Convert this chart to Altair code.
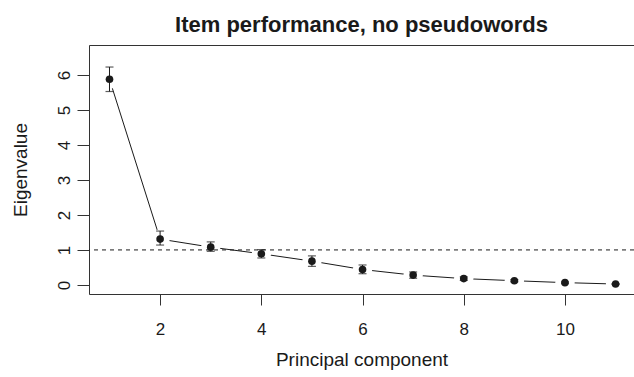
import altair as alt
import pandas as pd

pc = [1, 2, 3, 4, 5, 6, 7, 8, 9, 10, 11]
eig = [5.88, 1.31, 1.08, 0.89, 0.68, 0.44, 0.28, 0.18, 0.12, 0.065, 0.025]
lo = [5.53, 1.14, 0.96, 0.77, 0.53, 0.32, 0.19, 0.13, 0.09, 0.045, 0.015]
hi = [6.23, 1.54, 1.23, 1.01, 0.83, 0.57, 0.37, 0.23, 0.15, 0.085, 0.035]
x_ticks = [2, 4, 6, 8, 10]
y_ticks = [0, 1, 2, 3, 4, 5, 6]
ref_value = 1

df = pd.DataFrame({"pc": pc, "eig": eig, "lo": lo, "hi": hi})

FONT = "Liberation Sans"
INK = "#1a1a1a"

xs = alt.Scale(domain=[0.595, 11.364], nice=False, zero=False)
ys = alt.Scale(domain=[-0.26, 6.86], nice=False, zero=False)

x_axis = alt.Axis(
    orient="bottom",
    values=x_ticks, grid=False, tickSize=11, tickColor="#333", domainColor="#333",
    labelFont=FONT, labelFontSize=17, labelColor=INK, labelPadding=29,
    labelBaseline="alphabetic", title="Principal component", titleFont=FONT,
    titleFontSize=19, titleFontWeight="normal", titleColor=INK,
    titleBaseline="alphabetic", titleY=71,
)
y_axis = alt.Axis(
    values=y_ticks, grid=False, tickSize=12, tickColor="#333", domainColor="#333",
    labelFont=FONT, labelFontSize=17, labelColor=INK, labelAngle=270,
    labelAlign="center", labelBaseline="alphabetic", labelPadding=8,
    title="Eigenvalue", titleFont=FONT, titleFontSize=19, titleFontWeight="normal",
    titleColor=INK, titleAngle=270, titleBaseline="alphabetic", titleX=-63,
)

base = alt.Chart(df)

line = base.mark_line(color=INK, strokeWidth=1).encode(
    x=alt.X("pc:Q", scale=xs, axis=x_axis),
    y=alt.Y("eig:Q", scale=ys, axis=y_axis),
)
halo = base.mark_point(filled=True, color="white", opacity=1, size=380).encode(
    x=alt.X("pc:Q", scale=xs, axis=None), y=alt.Y("eig:Q", scale=ys)
)
topframe = base.mark_point(opacity=0).encode(
    x=alt.X("pc:Q", scale=xs, axis=alt.Axis(orient="top", labels=False, ticks=False,
                                             grid=False, title=None, domainColor="#333",
                                             minExtent=0, maxExtent=0)),
    y=alt.Y("eig:Q", scale=ys),
)
ref = alt.Chart(pd.DataFrame({"v": [ref_value]})).mark_rule(
    color=INK, strokeWidth=1, strokeDash=[4, 4]
).encode(y=alt.Y("v:Q", scale=ys))
bars = base.mark_rule(color="#1a1a1a", strokeWidth=1).encode(
    x=alt.X("pc:Q", scale=xs, axis=None), y=alt.Y("lo:Q", scale=ys), y2="hi:Q"
)
cap_lo = base.mark_tick(color="#1a1a1a", thickness=1.2, size=8, orient="horizontal").encode(
    x=alt.X("pc:Q", scale=xs, axis=None), y=alt.Y("lo:Q", scale=ys)
)
cap_hi = base.mark_tick(color="#1a1a1a", thickness=1.2, size=8, orient="horizontal").encode(
    x=alt.X("pc:Q", scale=xs, axis=None), y=alt.Y("hi:Q", scale=ys)
)
pts = base.mark_point(filled=True, color=INK, opacity=1, size=58).encode(
    x=alt.X("pc:Q", scale=xs, axis=None), y=alt.Y("eig:Q", scale=ys)
)

chart = alt.layer(line, topframe, halo, ref, bars, cap_lo, cap_hi, pts).resolve_axis(
    x="independent"
).properties(
    width=545, height=249,
    padding={"left": 89, "top": 45, "right": 0, "bottom": 83},
    autosize=alt.AutoSizeParams(type="none"),
    title=alt.TitleParams(
        "Item performance, no pseudowords", font=FONT, fontSize=22, fontWeight="bold",
        color=INK, anchor="middle", baseline="alphabetic", offset=14, dy=23,
    ),
).configure_view(stroke=None).configure(background="white")

chart.save("out.html", embed_options={"renderer": "svg", "actions": False})
